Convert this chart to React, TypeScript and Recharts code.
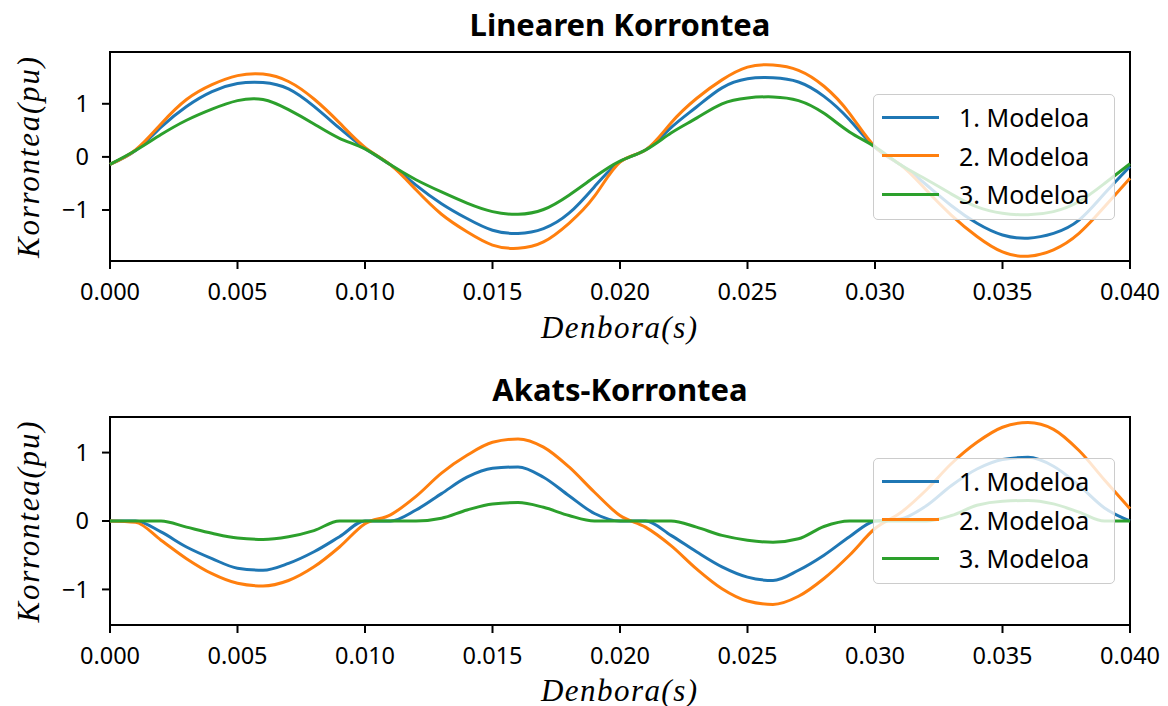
import React from "react";
import { LineChart, Line, XAxis, YAxis, ReferenceArea, Legend } from "recharts";

// time axis (s)
const timeS = [
  0, 0.001, 0.002, 0.003, 0.004, 0.005, 0.006, 0.007, 0.008, 0.009, 0.01,
  0.011, 0.012, 0.013, 0.014, 0.015, 0.016, 0.017, 0.018, 0.019, 0.02,
  0.021, 0.022, 0.023, 0.024, 0.025, 0.026, 0.027, 0.028, 0.029, 0.03,
  0.031, 0.032, 0.033, 0.034, 0.035, 0.036, 0.037, 0.038, 0.039, 0.04,
];

// Linearen Korrontea
const linModel1 = [
  -0.14, 0.12, 0.56, 0.95, 1.23, 1.38, 1.4, 1.28, 0.95, 0.54, 0.16,
  -0.15, -0.53, -0.88, -1.16, -1.38, -1.44, -1.35, -1.06, -0.56, -0.09,
  0.13, 0.55, 0.94, 1.3, 1.47, 1.49, 1.41, 1.14, 0.7, 0.18,
  -0.15, -0.52, -0.92, -1.25, -1.47, -1.53, -1.44, -1.19, -0.69, -0.18,
];
const linModel2 = [
  -0.14, 0.13, 0.62, 1.08, 1.36, 1.53, 1.56, 1.42, 1.09, 0.64, 0.18,
  -0.15, -0.62, -1.08, -1.41, -1.66, -1.72, -1.6, -1.25, -0.74, -0.1,
  0.13, 0.64, 1.1, 1.45, 1.69, 1.73, 1.63, 1.33, 0.82, 0.19,
  -0.15, -0.62, -1.1, -1.5, -1.79, -1.87, -1.75, -1.44, -0.94, -0.4,
];
const linModel3 = [
  -0.14, 0.12, 0.42, 0.69, 0.9, 1.06, 1.08, 0.89, 0.62, 0.35, 0.15,
  -0.15, -0.43, -0.66, -0.87, -1.03, -1.08, -0.99, -0.72, -0.38, -0.08,
  0.13, 0.45, 0.73, 1.0, 1.11, 1.13, 1.06, 0.82, 0.47, 0.19,
  -0.15, -0.42, -0.7, -0.94, -1.06, -1.09, -1.03, -0.84, -0.5, -0.13,
];

// Akats-Korrontea
const errModel1 = [
  0, 0, -0.16, -0.38, -0.55, -0.69, -0.72, -0.62, -0.45, -0.23, 0,
  0, 0.16, 0.4, 0.64, 0.77, 0.79, 0.64, 0.37, 0.11, 0,
  0, -0.21, -0.45, -0.67, -0.82, -0.87, -0.72, -0.5, -0.23, 0,
  0.03, 0.22, 0.52, 0.76, 0.9, 0.93, 0.8, 0.52, 0.19, 0,
];
const errModel2 = [
  0, -0.02, -0.28, -0.55, -0.77, -0.91, -0.95, -0.87, -0.67, -0.38, -0.04,
  0.09, 0.36, 0.7, 0.96, 1.15, 1.2, 1.08, 0.79, 0.42, 0.08,
  -0.09, -0.36, -0.7, -0.99, -1.17, -1.22, -1.1, -0.84, -0.5, -0.11,
  0.12, 0.45, 0.84, 1.15, 1.37, 1.44, 1.34, 1.03, 0.6, 0.18,
];
const errModel3 = [
  0, 0, 0, -0.09, -0.18, -0.25, -0.27, -0.23, -0.14, 0, 0,
  0, 0, 0.04, 0.16, 0.25, 0.27, 0.2, 0.08, 0, 0,
  0, 0, -0.09, -0.21, -0.28, -0.31, -0.26, -0.08, 0, 0,
  0, 0, 0.08, 0.23, 0.29, 0.3, 0.25, 0.13, 0, 0,
];

const seriesNames = ["1. Modeloa", "2. Modeloa", "3. Modeloa"];
const seriesColors = ["#1f77b4", "#ff7f0e", "#2ca02c"];
const xTicks = [0, 0.005, 0.01, 0.015, 0.02, 0.025, 0.03, 0.035, 0.04];
const yTicks = [-1, 0, 1];

const buildRows = (a: number[], b: number[], c: number[]) =>
  timeS.map((t, i) => ({ t, m1: a[i], m2: b[i], m3: c[i] }));

const linRows = buildRows(linModel1, linModel2, linModel3);
const errRows = buildRows(errModel1, errModel2, errModel3);

const tickFont = { fontSize: 23.5, fontFamily: "Noto Sans", fill: "#000" };

const fmtY = (v: number) => (v < 0 ? "\u2212" + Math.abs(v) : String(v));

const LegendBox = () => (
  <div
    style={{
      width: 242,
      height: 126,
      boxSizing: "border-box",
      background: "rgba(255,255,255,0.8)",
      border: "1.5px solid #cccccc",
      borderRadius: 5,
      position: "relative",
    }}
  >
    {seriesNames.map((n, i) => (
      <div
        key={n}
        style={{
          position: "absolute",
          left: 0,
          top: 3 + i * 38.5,
          height: 38,
          display: "flex",
          alignItems: "center",
        }}
      >
        <div style={{ marginLeft: 8, width: 57, height: 3, background: seriesColors[i] }} />
        <span style={{ marginLeft: 20, fontSize: 25, fontFamily: "Noto Sans", color: "#000" }}>
          {n}
        </span>
      </div>
    ))}
  </div>
);

type PanelProps = {
  rows: any[];
  domain: [number, number];
  marginTop: number;
  marginBottom: number;
  legendTop: number;
  curve: "natural" | "monotone";
};

const Panel = ({ rows, domain, marginTop, marginBottom, legendTop, curve }: PanelProps) => (
  <LineChart
    width={1168}
    height={353}
    data={rows}
    margin={{ top: marginTop, right: 38, bottom: marginBottom, left: 0 }}
  >
    <XAxis
      dataKey="t"
      type="number"
      domain={[0, 0.04]}
      ticks={xTicks}
      tickFormatter={(v: number) => v.toFixed(3)}
      axisLine={false}
      tickLine={{ stroke: "#000", strokeWidth: 2 }}
      tickSize={8}
      tickMargin={14}
      tick={tickFont}
      height={60}
      interval={0}
    />
    <YAxis
      type="number"
      domain={domain}
      ticks={yTicks}
      allowDataOverflow
      tickFormatter={fmtY}
      axisLine={false}
      tickLine={{ stroke: "#000", strokeWidth: 2 }}
      tickSize={8}
      tickMargin={13}
      tick={tickFont}
      width={110}
    />
    {["m1", "m2", "m3"].map((k, i) => (
      <Line
        key={k}
        dataKey={k}
        name={seriesNames[i]}
        type={curve}
        stroke={seriesColors[i]}
        strokeWidth={3}
        dot={false}
        activeDot={false}
        isAnimationActive={false}
      />
    ))}
    <ReferenceArea
      x1={0}
      x2={0.04}
      y1={domain[0]}
      y2={domain[1]}
      fill="none"
      stroke="#000"
      strokeWidth={2}
      fillOpacity={0}
    />
    <Legend
      layout="vertical"
      verticalAlign="middle"
      align="center"
      content={() => <LegendBox />}
      wrapperStyle={{ left: 873, top: legendTop, width: 242, height: 126 }}
    />
  </LineChart>
);

const Title = ({ text, y }: { text: string; y: number }) => (
  <div
    style={{
      position: "absolute",
      left: 620,
      top: y,
      transform: "translate(-50%, -50%)",
      fontFamily: "Noto Sans",
      fontWeight: 700,
      fontSize: 31,
      lineHeight: 1,
      whiteSpace: "nowrap",
      color: "#000",
    }}
  >
    {text}
  </div>
);

// axis labels, drawn in an overlay svg so their length can be pinned
const mathText = {
  fontFamily: "Liberation Serif",
  fontStyle: "italic",
  fontSize: 31,
  fill: "#000",
  dominantBaseline: "central" as const,
  textAnchor: "middle" as const,
  lengthAdjust: "spacing" as const,
};

const AxisLabels = () => (
  <svg
    width={1168}
    height={706}
    style={{ position: "absolute", left: 0, top: 0, pointerEvents: "none" }}
  >
    {[327.5, 690].map((y) => (
      <text key={"x" + y} x={619} y={y} textLength={156} {...mathText}>
        Denbora(s)
      </text>
    ))}
    {[157.5, 522].map((y) => (
      <text key={"y" + y} transform={`translate(28,${y}) rotate(-90)`} textLength={201} {...mathText}>
        Korrontea(pu)
      </text>
    ))}
  </svg>
);

export default function App() {
  return (
    <div style={{ position: "absolute", left: 0, top: 0, width: 1168, height: 706, background: "#fff" }}>
      <div style={{ position: "absolute", left: 0, top: 0 }}>
        <Panel rows={linRows} domain={[-1.96, 1.975]} marginTop={52} marginBottom={32} legendTop={94} curve="natural" />
      </div>
      <div style={{ position: "absolute", left: 0, top: 353 }}>
        <Panel rows={errRows} domain={[-1.52, 1.52]} marginTop={64} marginBottom={21} legendTop={105} curve="monotone" />
      </div>
      <Title text="Linearen Korrontea" y={24} />
      <Title text="Akats-Korrontea" y={389} />
      <AxisLabels />
    </div>
  );
}
